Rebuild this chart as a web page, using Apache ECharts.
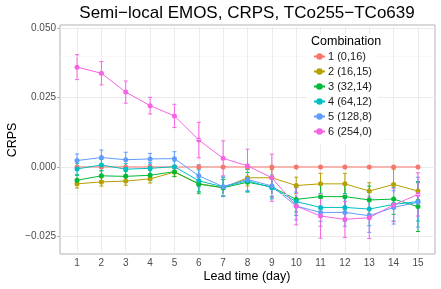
<!DOCTYPE html>
<html>
<head>
<meta charset="utf-8">
<script src="https://cdn.jsdelivr.net/npm/echarts@6/dist/echarts.min.js"></script>
<style>html,body{margin:0;padding:0;background:#fff}#c{width:441px;height:289px}</style>
</head>
<body>
<div id="c"></div>
<script>
const leadDays = [1,2,3,4,5,6,7,8,9,10,11,12,13,14,15];
const yTicks = [-0.025, 0, 0.025, 0.05];
const yMinorTicks = [-0.0125, 0.0125, 0.0375];
const seriesNames = ['1 (0,16)','2 (16,15)','3 (32,14)','4 (64,12)','5 (128,8)','6 (254,0)'];
const seriesColors = ['#F8766D','#B79F00','#00BA38','#00BFC4','#619CFF','#F564E3'];

const crps1 = [0,0,0,0,0,0,0,0,0,0,0,0,0,0,0];
const crps2 = [-0.0061,-0.0054,-0.0051,-0.0043,-0.0019,-0.0060,-0.0075,-0.0039,-0.0039,-0.0067,-0.0061,-0.0061,-0.0087,-0.0063,-0.0087];
const crps3 = [-0.0048,-0.0032,-0.0034,-0.0030,-0.0017,-0.0062,-0.0075,-0.0055,-0.0072,-0.0117,-0.0107,-0.0107,-0.0119,-0.0116,-0.0143];
const crps4 = [-0.0007,0.0007,-0.0008,-0.0005,0.0001,-0.0050,-0.0072,-0.0050,-0.0075,-0.0125,-0.0146,-0.0146,-0.0152,-0.0135,-0.0125];
const crps5 = [0.0023,0.0034,0.0026,0.0029,0.0030,-0.0032,-0.0071,-0.0045,-0.0069,-0.0141,-0.0164,-0.0164,-0.0176,-0.0146,-0.0127];
const crps6 = [0.0360,0.0338,0.0270,0.0221,0.0184,0.0097,0.0031,0.0004,-0.0039,-0.0141,-0.0177,-0.0189,-0.0183,-0.0137,-0.0099];

const err1 = [0,0,0,0,0,0,0,0,0,0,0,0,0,0,0];
const err2 = [0.0015,0.0015,0.0015,0.0015,0.0015,0.0030,0.0030,0.0030,0.0030,0.0030,0.0038,0.0038,0.0030,0.0055,0.0030];
const err3 = [0.0018,0.0018,0.0018,0.0018,0.0018,0.0035,0.0030,0.0035,0.0035,0.0045,0.0045,0.0045,0.0050,0.0055,0.0090];
const err4 = [0.0020,0.0020,0.0020,0.0020,0.0020,0.0040,0.0035,0.0040,0.0040,0.0050,0.0050,0.0050,0.0060,0.0060,0.0070];
const err5 = [0.0024,0.0027,0.0027,0.0020,0.0025,0.0040,0.0035,0.0040,0.0040,0.0050,0.0050,0.0050,0.0060,0.0060,0.0090];
const err6 = [0.0045,0.0042,0.0040,0.0030,0.0042,0.0064,0.0063,0.0060,0.0085,0.0068,0.0080,0.0065,0.0075,0.0060,0.0078];

const allVals = [crps1,crps2,crps3,crps4,crps5,crps6];
const allErrs = [err1,err2,err3,err4,err5,err6];

const series = [];
// minor gridlines
series.push({
  type:'line', data:[], silent:true, z:0,
  markLine:{silent:true, symbol:'none', label:{show:false}, animation:false,
    lineStyle:{color:'#f3f3f3', width:0.6, type:'solid'},
    data: yMinorTicks.map(v=>({yAxis:v}))}
});
allVals.forEach((vals, i) => {
  const color = seriesColors[i];
  const errs = allErrs[i];
  series.push({
    type:'custom', name: 'err' + i, silent:true, z:2,
    itemStyle:{color:color},
    data: leadDays.map((d,k)=>[d, vals[k]-errs[k], vals[k]+errs[k]]),
    encode:{x:0, y:[1,2]},
    renderItem: function(params, api){
      if (api.value(2) - api.value(1) <= 0) return null;
      const lo = api.coord([api.value(0), api.value(1)]);
      const hi = api.coord([api.value(0), api.value(2)]);
      const w = 2;
      const st = {stroke: color, lineWidth: 1};
      return {type:'group', children:[
        {type:'line', shape:{x1:lo[0], y1:lo[1], x2:hi[0], y2:hi[1]}, style:st},
        {type:'line', shape:{x1:lo[0]-w, y1:lo[1], x2:lo[0]+w, y2:lo[1]}, style:st},
        {type:'line', shape:{x1:hi[0]-w, y1:hi[1], x2:hi[0]+w, y2:hi[1]}, style:st}
      ]};
    }
  });
  series.push({
    type:'line', name: seriesNames[i], z:3,
    data: leadDays.map((d,k)=>[d, vals[k]]),
    symbol:'circle', symbolSize:5, showSymbol:true,
    itemStyle:{color:color},
    lineStyle:{color:color, width:1},
    emphasis:{disabled:true},
    animation:false
  });
});

const chart = echarts.init(document.getElementById('c'), null, {renderer:'canvas'});
chart.setOption({
  animation:false,
  backgroundColor:'#fff',
  grid:{left:60, right:6, top:25, bottom:35, show:true, borderColor:'#b3b3b3', borderWidth:1, backgroundColor:'transparent'},
  graphic:[
    {type:'text', x:247, y:13, z:10, style:{text:'Semi\u2212local EMOS, CRPS, TCo255\u2212TCo639', fontSize:17, fontFamily:'Liberation Sans, Arial, sans-serif', fill:'#000', textAlign:'center', textVerticalAlign:'middle'}},
    {type:'text', x:247, y:277, z:10, style:{text:'Lead time (day)', fontSize:12.5, fontFamily:'Liberation Sans, Arial, sans-serif', fill:'#000', textAlign:'center', textVerticalAlign:'middle'}},
    {type:'text', x:13, y:140, rotation:Math.PI/2, z:10, style:{text:'CRPS', fontSize:12.5, fontFamily:'Liberation Sans, Arial, sans-serif', fill:'#000', textAlign:'center', textVerticalAlign:'middle'}},
    {type:'text', x:311, y:42, z:110, style:{text:'Combination', fontSize:12.5, fontFamily:'Liberation Sans, Arial, sans-serif', fill:'#000', textAlign:'left', textVerticalAlign:'middle'}}
  ],
  legend:{
    data: seriesNames, orient:'vertical', left:307, top:34,
    padding:[16,6,6,6], backgroundColor:'#fff', itemGap:2,
    itemWidth:11, itemHeight:8, selectedMode:false, z:100,
    textStyle:{fontSize:11, fontFamily:'Liberation Sans, Arial, sans-serif', color:'#1a1a1a', lineHeight:13, padding:[0,0,0,-2]}
  },
  xAxis:{
    type:'value', min:0.3, max:15.7,
    axisLine:{show:false},
    axisTick:{show:true, length:3, lineStyle:{color:'#b3b3b3'}, customValues: leadDays},
    axisLabel:{show:true, customValues: leadDays, fontSize:10, color:'#4d4d4d', margin:4, fontFamily:'Liberation Sans, Arial, sans-serif'},
    splitLine:{show:true, lineStyle:{color:'#ebebeb', width:1}}
  },
  yAxis:{
    type:'value', min:-0.0314, max:0.0512,
    axisLine:{show:false},
    axisTick:{show:true, length:3, lineStyle:{color:'#b3b3b3'}, customValues: yTicks},
    axisLabel:{show:true, customValues: yTicks, fontSize:10, color:'#4d4d4d', margin:4, fontFamily:'Liberation Sans, Arial, sans-serif',
      formatter: v => (v < 0 ? '\u2212' : '') + Math.abs(v).toFixed(3)},
    splitLine:{show:true, lineStyle:{color:'#ebebeb', width:1}}
  },
  series: series
});
</script>
</body>
</html>
